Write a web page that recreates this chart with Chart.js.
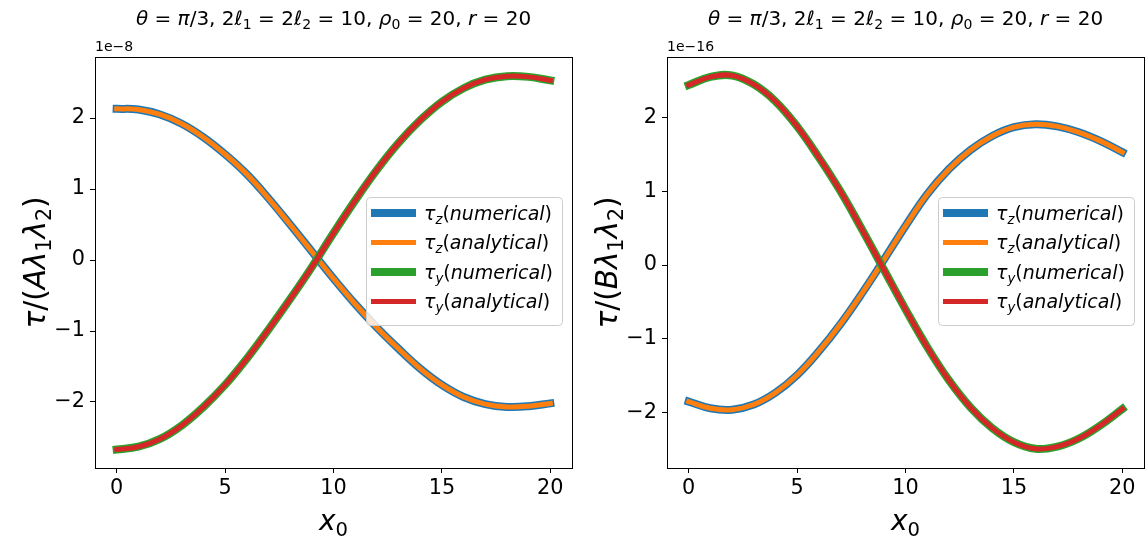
<!DOCTYPE html>
<html>
<head>
<meta charset="utf-8">
<script src="https://cdn.jsdelivr.net/npm/chart.js@4.4.0/dist/chart.umd.min.js"></script>
<style>
  body { margin: 0; background: #fff; }
  #wrap { position: relative; width: 1148px; height: 544px; }
  canvas { position: absolute; top: 0; }
</style>
</head>
<body>
<div id="wrap">
  <canvas id="left" width="574" height="544" style="left:0"></canvas>
  <canvas id="right" width="576" height="544" style="left:572px"></canvas>
</div>
<script>
const x0Values = [0, 1, 2, 3, 4, 5, 6, 7, 8, 9, 10, 11, 12, 13, 14, 15, 16, 17, 18, 19, 20];

// left panel, units of 1e-8
const tauZLeft = [2.13, 2.12, 2.05, 1.92, 1.73, 1.49, 1.21, 0.87, 0.50, 0.12, -0.26, -0.62, -0.95, -1.25, -1.53, -1.76, -1.93, -2.03, -2.07, -2.06, -2.02];
const tauYLeft = [-2.67, -2.63, -2.52, -2.33, -2.07, -1.76, -1.39, -0.98, -0.55, -0.10, 0.38, 0.84, 1.27, 1.65, 1.97, 2.23, 2.42, 2.54, 2.59, 2.58, 2.53];

// right panel, units of 1e-16
const tauZRight = [-1.85, -1.94, -1.96, -1.89, -1.73, -1.49, -1.17, -0.80, -0.38, 0.07, 0.53, 0.96, 1.30, 1.56, 1.75, 1.87, 1.91, 1.88, 1.80, 1.68, 1.53];
const tauYRight = [2.44, 2.55, 2.57, 2.45, 2.22, 1.88, 1.46, 1.00, 0.48, -0.06, -0.60, -1.11, -1.56, -1.93, -2.21, -2.40, -2.49, -2.46, -2.35, -2.17, -1.95];

const xTicks = [0, 5, 10, 15, 20];
const yTicks = [-2, -1, 0, 1, 2];

const FONT = '"DejaVu Sans"';

function fontFor(kind, size) {
    const sub = kind[0] === 's';
    const it = kind.indexOf('i') >= 0;
    return (it ? 'italic ' : '') + (sub ? size * 0.7 : size) + 'px ' + FONT;
}

// draw text made of [text, kind] pieces; kind: r, i, sr (subscript), si
function drawRich(ctx, segs, x, y, size, align) {
    let total = 0;
    segs.forEach(s => { ctx.font = fontFor(s[1], size); total += ctx.measureText(s[0]).width; });
    let cx = align === 'center' ? x - total / 2 : (align === 'right' ? x - total : x);
    ctx.textAlign = 'left';
    ctx.textBaseline = 'alphabetic';
    segs.forEach(s => {
        ctx.font = fontFor(s[1], size);
        const dy = s[1][0] === 's' ? size * 0.22 : 0;
        ctx.fillText(s[0], cx, y + dy);
        cx += ctx.measureText(s[0]).width;
    });
}

const titleSegs = [['θ', 'i'], [' = ', 'r'], ['π', 'i'], ['/3, 2', 'r'], ['ℓ', 'i'], ['1', 'sr'], [' = 2', 'r'], ['ℓ', 'i'], ['2', 'sr'],
    [' = 10, ', 'r'], ['ρ', 'i'], ['0', 'sr'], [' = 20, ', 'r'], ['r', 'i'], [' = 20', 'r']];

const legendRows = [
    { color: '#1f77b4', width: 8, segs: [['τ', 'i'], ['z', 'si'], ['(', 'r'], ['numerical', 'i'], [')', 'r']] },
    { color: '#ff7f0e', width: 5, segs: [['τ', 'i'], ['z', 'si'], ['(', 'r'], ['analytical', 'i'], [')', 'r']] },
    { color: '#2ca02c', width: 8, segs: [['τ', 'i'], ['y', 'si'], ['(', 'r'], ['numerical', 'i'], [')', 'r']] },
    { color: '#d62728', width: 5, segs: [['τ', 'i'], ['y', 'si'], ['(', 'r'], ['analytical', 'i'], [')', 'r']] }
];

function fmtTick(v) {
    return v < 0 ? '\u2212' + Math.abs(v) : String(v);
}

function makeDataset(values, color, width, order) {
    return {
        data: x0Values.map((x, i) => ({ x: x, y: values[i] })),
        borderColor: color,
        borderWidth: width,
        pointRadius: 0,
        fill: false,
        tension: 0.4,
        borderCapStyle: 'square',
        borderJoinStyle: 'round',
        order: order
    };
}

function makeChart(id, canvasWidth, tauZ, tauY, yMin, yMax, letter, offsetText) {
    const decor = {
        id: 'decor',
        afterDraw(chart) {
            const ctx = chart.ctx;
            const a = chart.chartArea;
            ctx.save();
            // frame
            ctx.strokeStyle = '#000';
            ctx.lineWidth = 1;
            ctx.strokeRect(Math.round(a.left) + 0.5, Math.round(a.top) + 0.5, Math.round(a.right - a.left), Math.round(a.bottom - a.top));
            ctx.fillStyle = '#000';
            const mid = (a.left + a.right) / 2;
            drawRich(ctx, titleSegs, mid, 25, 20, 'center');
            drawRich(ctx, [[offsetText, 'r']], a.left, 51, 14, 'left');
            drawRich(ctx, [['x', 'i'], ['0', 'sr']], mid, 530, 28, 'center');
            ctx.save();
            ctx.translate(45, (a.top + a.bottom) / 2);
            ctx.rotate(-Math.PI / 2);
            drawRich(ctx, [['τ', 'i'], ['/(', 'r'], [letter, 'i'], ['λ', 'i'], ['1', 'sr'], ['λ', 'i'], ['2', 'sr'], [')', 'r']], 0, 0, 29.5, 'center');
            ctx.restore();
            // legend
            const lw = 196, lh = 128;
            const lx = a.right - 10 - lw, ly = a.top + 140;
            ctx.fillStyle = 'rgba(255,255,255,0.8)';
            ctx.strokeStyle = '#cccccc';
            ctx.lineWidth = 1;
            ctx.beginPath();
            ctx.roundRect(lx + 0.5, ly + 0.5, lw, lh, 4);
            ctx.fill();
            ctx.stroke();
            legendRows.forEach((row, i) => {
                const cy = ly + 16 + i * 29.5;
                ctx.strokeStyle = row.color;
                ctx.lineWidth = row.width;
                ctx.lineCap = 'butt';
                ctx.beginPath();
                ctx.moveTo(lx + 5, cy);
                ctx.lineTo(lx + 50, cy);
                ctx.stroke();
                ctx.fillStyle = '#000';
                drawRich(ctx, row.segs, lx + 58, cy + 6.5, 19, 'left');
            });
            ctx.restore();
        }
    };

    return new Chart(document.getElementById(id), {
        type: 'line',
        data: {
            datasets: [
                makeDataset(tauZ, '#1f77b4', 8, 3),
                makeDataset(tauZ, '#ff7f0e', 5, 2),
                makeDataset(tauY, '#2ca02c', 8, 1),
                makeDataset(tauY, '#d62728', 5, 0)
            ]
        },
        options: {
            responsive: false,
            animation: false,
            layout: { padding: { top: 57, right: canvasWidth - 572, left: 0, bottom: 0 } },
            plugins: { legend: { display: false }, tooltip: { enabled: false }, title: { display: false } },
            scales: {
                x: {
                    type: 'linear',
                    min: -1,
                    max: 21,
                    afterBuildTicks: s => { s.ticks = xTicks.map(v => ({ value: v })); },
                    afterFit: s => { s.height = 76; },
                    grid: { drawOnChartArea: false, drawTicks: true, tickLength: 5, tickColor: '#000' },
                    border: { display: false },
                    ticks: { color: '#000', padding: 3, maxRotation: 0, font: { family: FONT, size: 20.8 }, callback: fmtTick }
                },
                y: {
                    type: 'linear',
                    min: yMin,
                    max: yMax,
                    afterBuildTicks: s => { s.ticks = yTicks.map(v => ({ value: v })); },
                    afterFit: s => { s.width = 95; },
                    grid: { drawOnChartArea: false, drawTicks: true, tickLength: 5, tickColor: '#000' },
                    border: { display: false },
                    ticks: { color: '#000', padding: 5, font: { family: FONT, size: 20.8 }, callback: fmtTick }
                }
            }
        },
        plugins: [decor]
    });
}

makeChart('left', 574, tauZLeft, tauYLeft, -2.93, 2.86, 'A', '1e\u22128');
makeChart('right', 576, tauZRight, tauYRight, -2.75, 2.82, 'B', '1e\u221216');
</script>
</body>
</html>
